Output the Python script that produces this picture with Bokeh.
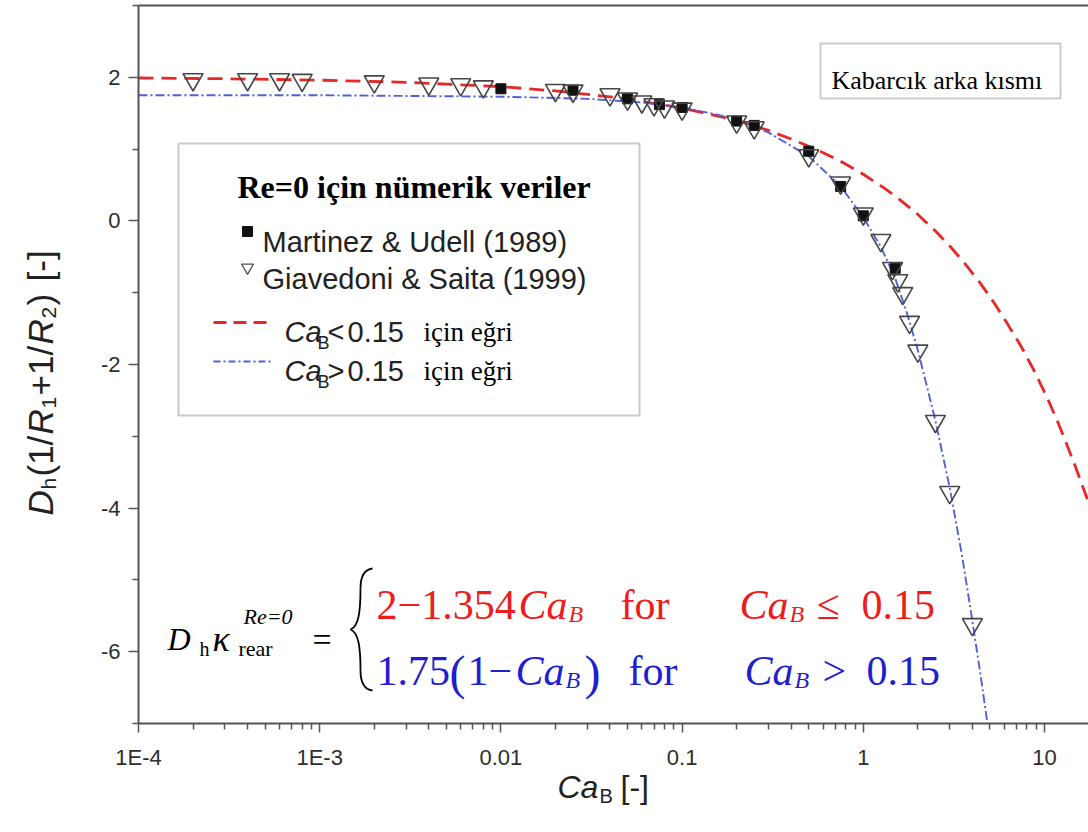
import numpy as np
from bokeh.plotting import figure
from bokeh.models import (Label, BoxAnnotation, FixedTicker, LogAxis,
                          CustomJSTickFormatter)
from bokeh.embed import file_html
from bokeh.resources import INLINE

# ---------------------------------------------------------------- data
# Re=0 numerical data, rear of the bubble: Ca_B vs D_h(1/R1+1/R2)
mu_ca = [0.01, 0.025, 0.05, 0.075, 0.1, 0.2, 0.25, 0.5, 0.75, 1.0, 1.5]
mu_k = [1.84, 1.82, 1.70, 1.62, 1.58, 1.39, 1.33, 0.97, 0.48, 0.07, -0.66]

gs_ca = [2e-4, 4e-4, 6e-4, 8e-4, 2e-3, 4e-3, 6e-3, 8e-3, 0.02, 0.025,
         0.04, 0.05, 0.06, 0.07, 0.08, 0.1, 0.2, 0.25, 0.5, 0.75,
         1.0, 1.25, 1.45, 1.55, 1.65, 1.8, 2.0, 2.5, 3.0, 4.0]
gs_k = [1.97, 1.97, 1.97, 1.96, 1.94, 1.91, 1.90, 1.87, 1.82, 1.81,
        1.76, 1.70, 1.66, 1.62, 1.59, 1.56, 1.38, 1.30, 0.91, 0.53,
        0.10, -0.27, -0.66, -0.83, -1.01, -1.41, -1.81, -2.79, -3.78, -5.62]

# fitted curve, Ca_B < 0.15 branch (red dashed)
low_ca = [1e-4, 3e-4, 1e-3, 3e-3, 0.01, 0.02, 0.05, 0.1, 0.2, 0.3, 0.4,
          0.5, 0.6, 0.75, 1.0, 1.3, 1.6, 2.0, 2.5, 3.0, 3.6, 4.4, 5.3,
          6.2, 7.4, 8.7, 10.3, 12.2, 14.5, 17.5]
low_k = [1.99, 1.98, 1.96, 1.93, 1.87, 1.81, 1.70, 1.57, 1.40, 1.26, 1.14,
         1.04, 0.95, 0.83, 0.65, 0.46, 0.29, 0.09, -0.14, -0.35, -0.58,
         -0.86, -1.15, -1.42, -1.74, -2.07, -2.45, -2.88, -3.36, -3.92]

# fitted curve, Ca_B > 0.15 branch (blue dash-dot)
high_ca = [1e-4, 1e-3, 0.01, 0.03, 0.06, 0.1, 0.15, 0.2, 0.3, 0.5, 0.75,
           1.0, 1.25, 1.5, 1.75, 2.0, 2.5, 3.0, 3.5, 4.0, 4.5, 4.84]
high_k = [1.75, 1.75, 1.73, 1.70, 1.65, 1.58, 1.49, 1.41, 1.23, 0.90, 0.48,
          0.05, -0.36, -0.80, -1.30, -1.80, -2.78, -3.72, -4.65, -5.57,
          -6.43, -7.0]

x_major = [1e-4, 1e-3, 1e-2, 1e-1, 1, 10]
x_tick_labels = ["1E-4", "1E-3", "0.01", "0.1", "1", "10"]
y_major = [-6, -4, -2, 0, 2]
y_minor = [-7, -5, -3, -1, 1, 3]
X_MIN, Y_MIN, Y_MAX = 1e-4, -7, 3

# ---------------------------------------------------------------- layout
W, H = 1088, 832
AXIS_PX, DECADE_PX = 138, 181.2     # x: where 1e-4 sits, pixels per decade
TOP_PX, UNIT_PX = 5, 71.8           # y: where 3 sits, pixels per unit


def px_x(px):
    return float(10 ** (np.log10(X_MIN) + (px - AXIS_PX) / DECADE_PX))


def px_y(py):
    return float(Y_MAX - (py - TOP_PX) / UNIT_PX)


X_END = px_x(W)

p = figure(width=W, height=H, x_axis_type="log",
           x_range=(px_x(0), X_END), y_range=(px_y(H), px_y(0)),
           output_backend="svg", toolbar_location=None,
           min_border=0, min_border_left=0, min_border_right=0,
           min_border_top=0, min_border_bottom=0)
p.outline_line_color = None
p.grid.visible = False
p.background_fill_color = "white"
p.border_fill_color = "white"

AX = "#555555"
xax = p.xaxis[0]
yax = p.yaxis[0]
top_ax = LogAxis(ticker=FixedTicker(ticks=[], minor_ticks=[]))
p.add_layout(top_ax, "above")

for ax in (xax, yax, top_ax):
    ax.axis_line_color = AX
    ax.axis_line_width = 2
    ax.major_tick_line_color = AX
    ax.major_tick_line_width = 1.5
    ax.minor_tick_line_color = AX
    ax.minor_tick_line_width = 1.5
    ax.major_tick_in = 0
    ax.minor_tick_in = 0
    ax.major_label_text_font = "Liberation Sans"
    ax.major_label_text_font_size = "22px"
    ax.major_label_text_color = "#2e2e2e"

xax.fixed_location = Y_MIN
xax.bounds = (X_MIN, X_END)
minor_x = [k * 10.0 ** e for e in range(-4, 2) for k in range(2, 10)
           if k * 10.0 ** e < X_END]
xax.ticker = FixedTicker(ticks=x_major, minor_ticks=minor_x)
xax.formatter = CustomJSTickFormatter(
    args=dict(labels=x_tick_labels),
    code="return labels[Math.round(Math.log10(tick)) + 4];")
xax.major_tick_out = 9
xax.minor_tick_out = 6
xax.major_label_standoff = 12

yax.fixed_location = X_MIN
yax.bounds = (Y_MIN, Y_MAX)
yax.ticker = FixedTicker(ticks=y_major, minor_ticks=y_minor)
yax.formatter = CustomJSTickFormatter(code="return String(tick);")
yax.major_tick_out = 10
yax.minor_tick_out = 6
yax.major_label_standoff = 8

top_ax.fixed_location = Y_MAX
top_ax.bounds = (X_MIN, X_END)
top_ax.major_tick_line_color = None
top_ax.minor_tick_line_color = None
top_ax.major_label_text_alpha = 0

RED = "#e82828"
BLUE = "#5060da"

# boxes (drawn beneath the glyphs)
p.add_layout(BoxAnnotation(left=px_x(178), right=px_x(639),
                           top=px_y(143), bottom=px_y(415),
                           fill_color="white", fill_alpha=1,
                           line_color="#505050", line_width=2,
                           level="underlay"))
p.add_layout(BoxAnnotation(left=px_x(820), right=px_x(1060),
                           top=px_y(43), bottom=px_y(98),
                           fill_color="white", fill_alpha=1,
                           line_color="#505050", line_width=2,
                           level="underlay"))

# curves and data
p.line(low_ca, low_k, line_color=RED, line_width=2.8, line_dash="15 8")
p.line(high_ca, high_k, line_color=BLUE, line_width=1.9,
       line_dash="9 3 2 3")
p.scatter(mu_ca, mu_k, marker="square", size=10, fill_color="#111111",
          line_color="#111111")
p.scatter(gs_ca, gs_k, marker="inverted_triangle", size=20,
          fill_alpha=0, line_color="#464646", line_width=1.6)

# legend swatches
p.scatter([px_x(247)], [px_y(231)], marker="square", size=10,
          fill_color="#111111", line_color="#111111")
p.scatter([px_x(247)], [px_y(267)], marker="inverted_triangle", size=12,
          fill_alpha=0, line_color="#505050", line_width=1.3)
p.line([px_x(213), px_x(272)], [px_y(322), px_y(322)], line_color=RED,
       line_width=2.8, line_dash="13 7")
p.line([px_x(213), px_x(272)], [px_y(361), px_y(361)], line_color=BLUE,
       line_width=1.9, line_dash="7 3 2 3")

# brace of the piecewise formula
brace = dict(
    x0=[372, 360, 350, 360], y0=[568, 588, 629, 670],
    x1=[360, 350, 360, 372], y1=[588, 629, 670, 690],
    cx0=[364, 360, 358, 360], cy0=[569, 612, 632, 683],
    cx1=[360, 358, 360, 364], cy1=[575, 626, 646, 689])
p.bezier(x0=[px_x(v) for v in brace["x0"]], y0=[px_y(v) for v in brace["y0"]],
         x1=[px_x(v) for v in brace["x1"]], y1=[px_y(v) for v in brace["y1"]],
         cx0=[px_x(v) for v in brace["cx0"]], cy0=[px_y(v) for v in brace["cy0"]],
         cx1=[px_x(v) for v in brace["cx1"]], cy1=[px_y(v) for v in brace["cy1"]],
         line_color="black", line_width=1.8)


def label(px, py, text, size, font="Liberation Sans", style="normal",
          color="black", angle=0.0):
    p.add_layout(Label(x=px_x(px), y=px_y(py), text=text,
                       text_font=font, text_font_size=f"{size}px",
                       text_font_style=style, text_color=color,
                       text_align="left", text_baseline="alphabetic",
                       angle=angle, angle_units="rad"))


SERIF = "Liberation Serif"
INK = "#222222"

# axis titles
label(557, 786, "Ca", 32, style="italic", color=INK)
label(599, 795, "B", 20, color=INK)
label(620, 786, "[-]", 32, color=INK)

ROT = np.pi / 2
label(40, 515, "D", 35, style="italic", angle=ROT, color=INK)
label(48, 489, "h", 21, angle=ROT, color=INK)
label(40, 476, "(1/", 35, angle=ROT, color=INK)
label(40, 434, "R", 35, style="italic", angle=ROT, color=INK)
label(48, 408, "1", 21, angle=ROT, color=INK)
label(40, 395, "+1/", 35, angle=ROT, color=INK)
label(40, 344, "R", 35, style="italic", angle=ROT, color=INK)
label(48, 318, "2", 21, angle=ROT, color=INK)
label(40, 305, ")", 35, angle=ROT, color=INK)
label(40, 281, "[-]", 35, angle=ROT, color=INK)

# legend texts
label(237, 186, "Re=0 için nümerik veriler", 32, font=SERIF, style="bold")
label(262, 241, "Martinez & Udell (1989)", 29, color=INK)
label(262, 278, "Giavedoni & Saita (1999)", 29, color=INK)
label(284, 331, "Ca", 29, style="italic", color=INK)
label(317, 342, "B", 18, color=INK)
label(327, 331, "<", 29, color=INK)
label(347, 331, "0.15", 29, color=INK)
label(423, 331, "için eğri", 27, font=SERIF)
label(284, 370, "Ca", 29, style="italic", color=INK)
label(317, 381, "B", 18, color=INK)
label(327, 370, ">", 29, color=INK)
label(347, 370, "0.15", 29, color=INK)
label(423, 370, "için eğri", 27, font=SERIF)

label(831, 80, "Kabarcık arka kısmı", 26, font=SERIF)

# piecewise formula
label(167, 638, "D", 32, font=SERIF, style="italic")
label(199, 648, "h", 20, font=SERIF)
label(212, 638, "κ", 36, font=SERIF, style="italic")
label(243, 616, "Re=0", 22, font=SERIF, style="italic")
label(238, 648, "rear", 22, font=SERIF)
label(312, 639, "=", 34, font=SERIF)

RT = "#ee1c1c"
BT = "#1f1fd0"
label(376, 604, "2−1.354", 42, font=SERIF, color=RT)
label(518, 604, "Ca", 42, font=SERIF, style="italic", color=RT)
label(568, 613, "B", 24, font=SERIF, style="italic", color=RT)
label(620, 604, "for", 42, font=SERIF, color=RT)
label(739, 604, "Ca", 42, font=SERIF, style="italic", color=RT)
label(789, 613, "B", 24, font=SERIF, style="italic", color=RT)
label(816, 604, "≤", 42, font=SERIF, color=RT)
label(861, 604, "0.15", 42, font=SERIF, color=RT)

label(376, 670, "1.75", 42, font=SERIF, color=BT)
label(449, 672, "(", 48, font=SERIF, color=BT)
label(467, 670, "1−", 42, font=SERIF, color=BT)
label(515, 670, "Ca", 42, font=SERIF, style="italic", color=BT)
label(565, 679, "B", 24, font=SERIF, style="italic", color=BT)
label(584, 672, ")", 48, font=SERIF, color=BT)
label(628, 670, "for", 42, font=SERIF, color=BT)
label(744, 670, "Ca", 42, font=SERIF, style="italic", color=BT)
label(794, 679, "B", 24, font=SERIF, style="italic", color=BT)
label(822, 670, ">", 42, font=SERIF, color=BT)
label(866, 670, "0.15", 42, font=SERIF, color=BT)

open("out.html", "w").write(file_html(p, INLINE))
